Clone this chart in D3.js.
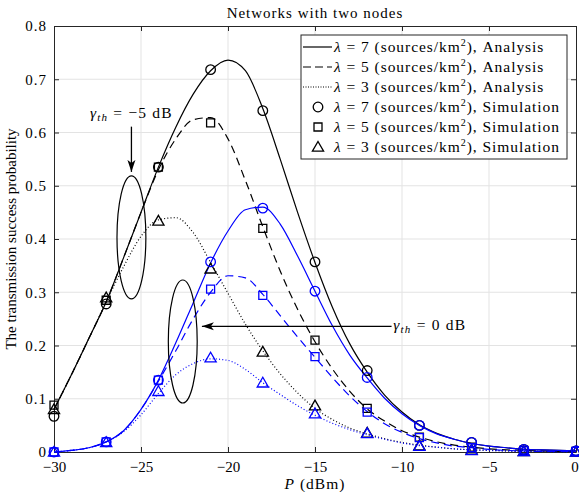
<!DOCTYPE html>
<html>
<head>
<meta charset="utf-8">
<script src="https://cdn.jsdelivr.net/npm/d3@7"></script>
<style>
body { margin: 0; background: #fff; }
text { font-family: "Liberation Serif", "DejaVu Serif", serif; fill: #000; }
</style>
</head>
<body>
<svg id="chart"></svg>
<script>
// analysis grid (dBm)
const pGrid = [-30, -29, -28, -27, -26, -25, -24, -23, -22, -21, -20, -19, -18, -17, -16, -15,
    -14, -13, -12, -11, -10, -9, -8, -7, -6, -5, -4, -3, -2, -1, 0];

// gamma_th = -5 dB (black)
const anaB7 = [0.08, 0.145, 0.213, 0.282, 0.365, 0.45, 0.535, 0.61, 0.672, 0.716, 0.736, 0.716, 0.645,
    0.55, 0.45, 0.356, 0.272, 0.203, 0.15, 0.107, 0.075, 0.051, 0.035, 0.024, 0.016, 0.011, 0.008, 0.005, 0.004, 0.003, 0.002];
const anaB5 = [0.08, 0.145, 0.213, 0.282, 0.365, 0.45, 0.53, 0.588, 0.624, 0.628, 0.588, 0.51, 0.423,
    0.34, 0.268, 0.207, 0.156, 0.114, 0.081, 0.058, 0.04, 0.028, 0.019, 0.013, 0.009, 0.006, 0.004, 0.003, 0.002, 0.001, 0.001];
const anaB3 = [0.08, 0.145, 0.213, 0.282, 0.348, 0.405, 0.436, 0.44, 0.412, 0.356, 0.298, 0.24, 0.19,
    0.147, 0.111, 0.082, 0.061, 0.045, 0.034, 0.025, 0.018, 0.013, 0.009, 0.006, 0.004, 0.003, 0.002, 0.001, 0.001, 0.0, 0.0];

// gamma_th = 0 dB (blue)
const anaU7 = [0.0, 0.003, 0.008, 0.019, 0.04, 0.08, 0.135, 0.205, 0.28, 0.355, 0.415, 0.455, 0.46,
    0.428, 0.368, 0.302, 0.237, 0.182, 0.139, 0.101, 0.072, 0.05, 0.034, 0.024, 0.016, 0.011, 0.008, 0.005, 0.004, 0.003, 0.002];
const anaU5 = [0.0, 0.003, 0.008, 0.019, 0.04, 0.08, 0.133, 0.19, 0.25, 0.3, 0.331, 0.327, 0.296,
    0.256, 0.216, 0.178, 0.14, 0.105, 0.076, 0.053, 0.037, 0.025, 0.017, 0.011, 0.008, 0.005, 0.003, 0.002, 0.001, 0.001, 0.001];
const anaU3 = [0.0, 0.003, 0.008, 0.019, 0.038, 0.07, 0.11, 0.145, 0.166, 0.175, 0.172, 0.155, 0.13,
    0.108, 0.087, 0.069, 0.054, 0.042, 0.032, 0.024, 0.017, 0.012, 0.009, 0.006, 0.004, 0.003, 0.002, 0.001, 0.001, 0.0, 0.0];

// simulation points
const pSim = [-30, -27, -24, -21, -18, -15, -12, -9, -6, -3, 0];
const simB7 = [0.067, 0.278, 0.535, 0.718, 0.641, 0.357, 0.153, 0.05, 0.018, 0.005, 0.002];
const simB5 = [0.088, 0.285, 0.535, 0.618, 0.42, 0.21, 0.082, 0.028, 0.009, 0.003, 0.001];
const simB3 = [0.08, 0.29, 0.434, 0.344, 0.188, 0.087, 0.036, 0.012, 0.004, 0.001, 0.0];
const simU7 = [0.0, 0.019, 0.135, 0.357, 0.458, 0.302, 0.14, 0.05, 0.018, 0.005, 0.002];
const simU5 = [0.0, 0.019, 0.135, 0.306, 0.294, 0.179, 0.075, 0.027, 0.008, 0.002, 0.001];
const simU3 = [0.0, 0.018, 0.114, 0.177, 0.13, 0.072, 0.035, 0.011, 0.003, 0.001, 0.0];

const xTicks = [-30, -25, -20, -15, -10, -5, 0];
const yTicks = [0, 0.1, 0.2, 0.3, 0.4, 0.5, 0.6, 0.7, 0.8];
const legendLabels = ["7", "5", "3", "7", "5", "3"];

const width = 579;
const height = 492;
const margin = { top: 26, right: 3, bottom: 40, left: 54 };

const svg = d3.select("#chart")
    .attr("width", width)
    .attr("height", height);

const x = d3.scaleLinear().domain([-30, 0]).range([margin.left, width - margin.right]);
const y = d3.scaleLinear().domain([0, 0.8]).range([height - margin.bottom, margin.top]);

const blue = "#0000ff";
const dashes = { solid: null, dashed: "8,5", dotted: "1,2.2" };

// grid
svg.append("g")
    .selectAll("line")
    .data(xTicks.slice(1, -1))
    .join("line")
    .attr("x1", d => x(d)).attr("x2", d => x(d))
    .attr("y1", y(0)).attr("y2", y(0.8))
    .attr("stroke", "#e3e3e3").attr("stroke-width", 1);
svg.append("g")
    .selectAll("line")
    .data(yTicks.slice(1, -1))
    .join("line")
    .attr("x1", x(-30)).attr("x2", x(0))
    .attr("y1", d => y(d)).attr("y2", d => y(d))
    .attr("stroke", "#e3e3e3").attr("stroke-width", 1);

// axes (ticks inward, box)
const fmtY = d => d === 0 ? "0" : d3.format(".1f")(d);
const bottomAxis = svg.append("g")
    .attr("transform", `translate(0,${y(0)})`)
    .call(d3.axisBottom(x).tickValues(xTicks).tickSizeInner(-5).tickSizeOuter(0).tickPadding(9).tickFormat(d3.format("d")));
const leftAxis = svg.append("g")
    .attr("transform", `translate(${x(-30)},0)`)
    .call(d3.axisLeft(y).tickValues(yTicks).tickSizeInner(-5).tickSizeOuter(0).tickPadding(7).tickFormat(fmtY));
const topAxis = svg.append("g")
    .attr("transform", `translate(0,${y(0.8)})`)
    .call(d3.axisTop(x).tickValues(xTicks).tickSizeInner(-5).tickSizeOuter(0).tickFormat(""));
const rightAxis = svg.append("g")
    .attr("transform", `translate(${x(0)},0)`)
    .call(d3.axisRight(y).tickValues(yTicks).tickSizeInner(-5).tickSizeOuter(0).tickFormat(""));

[bottomAxis, leftAxis, topAxis, rightAxis].forEach(g => {
    g.select(".domain").attr("stroke", "#262626").attr("stroke-width", 1);
    g.selectAll(".tick line").attr("stroke", "#262626");
    g.selectAll(".tick text")
        .attr("font-family", "Liberation Serif")
        .attr("font-size", 15)
        .attr("fill", "#262626");
});
leftAxis.selectAll(".tick text").attr("letter-spacing", 1);
// keep the last x label inside the window
bottomAxis.selectAll(".tick text").filter(d => d === 0).attr("dx", -1.5);

// analysis curves
const line = d3.line()
    .x(d => x(d[0]))
    .y(d => y(d[1]))
    .curve(d3.curveMonotoneX);

const curves = [
    { vals: anaB7, color: "#000", dash: dashes.solid },
    { vals: anaB5, color: "#000", dash: dashes.dashed },
    { vals: anaB3, color: "#000", dash: dashes.dotted },
    { vals: anaU7, color: blue, dash: dashes.solid },
    { vals: anaU5, color: blue, dash: dashes.dashed },
    { vals: anaU3, color: blue, dash: dashes.dotted }
];

svg.append("g")
    .selectAll("path")
    .data(curves)
    .join("path")
    .attr("d", c => line(pGrid.map((p, i) => [p, c.vals[i]])))
    .attr("fill", "none")
    .attr("stroke", c => c.color)
    .attr("stroke-width", 1.2)
    .attr("stroke-dasharray", c => c.dash);

// markers
const symbolPath = {
    circle: "M0,-4.8A4.8,4.8 0 1,1 0,4.8A4.8,4.8 0 1,1 0,-4.8Z",
    square: "M-4,-4H4V4H-4Z",
    triangle: "M0,-5.5L5.6,4.2H-5.6Z"
};

const sims = [
    { vals: simB7, color: "#000", shape: "circle" },
    { vals: simB5, color: "#000", shape: "square" },
    { vals: simB3, color: "#000", shape: "triangle" },
    { vals: simU7, color: blue, shape: "circle" },
    { vals: simU5, color: blue, shape: "square" },
    { vals: simU3, color: blue, shape: "triangle" }
];

sims.forEach(s => {
    svg.append("g")
        .selectAll("path")
        .data(pSim.map((p, i) => [p, s.vals[i]]))
        .join("path")
        .attr("transform", d => `translate(${x(d[0])},${y(d[1])})`)
        .attr("d", symbolPath[s.shape])
        .attr("fill", "none")
        .attr("stroke", s.color)
        .attr("stroke-width", 1.3);
});

// annotations: ellipses and arrows (data units)
const ellipses = [
    { p: -25.55, v: 0.403, dp: 0.83, dv: 0.1155 },
    { p: -22.6, v: 0.2075, dp: 0.83, dv: 0.1155 }
];
svg.append("g")
    .selectAll("ellipse")
    .data(ellipses)
    .join("ellipse")
    .attr("cx", d => x(d.p))
    .attr("cy", d => y(d.v))
    .attr("rx", d => x(d.p + d.dp) - x(d.p))
    .attr("ry", d => y(d.v) - y(d.v + d.dv))
    .attr("fill", "none")
    .attr("stroke", "#000")
    .attr("stroke-width", 1.2);

svg.append("defs").append("marker")
    .attr("id", "arrow")
    .attr("viewBox", "0 0 12 10")
    .attr("refX", 12).attr("refY", 5)
    .attr("markerWidth", 12).attr("markerHeight", 10)
    .attr("markerUnits", "userSpaceOnUse")
    .attr("orient", "auto")
    .append("path")
    .attr("d", "M0,1 L12,5 L0,9 L3,5 Z")
    .attr("fill", "#000");

const arrows = [
    { p1: -25.55, v1: 0.611, p2: -25.55, v2: 0.526 },
    { p1: -10.6, v1: 0.236, p2: -21.5, v2: 0.236 }
];
svg.append("g")
    .selectAll("line")
    .data(arrows)
    .join("line")
    .attr("x1", d => x(d.p1)).attr("y1", d => y(d.v1))
    .attr("x2", d => x(d.p2)).attr("y2", d => y(d.v2))
    .attr("stroke", "#000")
    .attr("stroke-width", 1.3)
    .attr("marker-end", "url(#arrow)");

const notes = [
    { p: -25.55, v: 0.628, text: "\u22125 dB", anchor: "middle" },
    { p: -10.5, v: 0.23, text: "0 dB", anchor: "start" }
];
notes.forEach(n => {
    const t = svg.append("text")
        .attr("x", x(n.p))
        .attr("y", y(n.v))
        .attr("text-anchor", n.anchor)
        .attr("font-size", 15.5)
        .attr("letter-spacing", 1.2);
    t.append("tspan").attr("font-style", "italic").text("\u03b3");
    t.append("tspan").attr("font-style", "italic").attr("font-size", 11).attr("dy", 3).text("th");
    t.append("tspan").attr("dy", -3).text(" = " + n.text);
});

// legend
const legend = svg.append("g").attr("transform", "translate(301,35)");
legend.append("rect")
    .attr("width", 266).attr("height", 124)
    .attr("fill", "#fff").attr("stroke", "#262626").attr("stroke-width", 1);

const rowH = 20;
legendLabels.forEach((lab, i) => {
    const cy = 12 + i * rowH;
    const g = legend.append("g").attr("transform", `translate(0,${cy})`);
    if (i < 3) {
        g.append("line")
            .attr("x1", 2).attr("x2", 31)
            .attr("stroke", "#000").attr("stroke-width", 1.2)
            .attr("stroke-dasharray", [null, "8,4", "1,1.5"][i]);
    } else {
        g.append("path")
            .attr("transform", "translate(17,0)")
            .attr("d", symbolPath[["circle", "square", "triangle"][i - 3]])
            .attr("fill", "none").attr("stroke", "#000").attr("stroke-width", 1.3);
    }
    const t = g.append("text")
        .attr("x", 33).attr("y", 5)
        .attr("font-size", 15.5)
        .attr("letter-spacing", 0.95);
    t.append("tspan").attr("font-style", "italic").text("\u03bb");
    t.append("tspan").text(` = ${lab} (sources/km`);
    t.append("tspan").attr("font-size", 10).attr("dy", -6).text("2");
    t.append("tspan").attr("dy", 6).text(i < 3 ? "), Analysis" : "), Simulation");
});

// title and axis labels
svg.append("text")
    .attr("x", (x(-30) + x(0)) / 2)
    .attr("y", 18)
    .attr("text-anchor", "middle")
    .attr("font-size", 15)
    .attr("letter-spacing", 1)
    .text("Networks with two nodes");

const xl = svg.append("text")
    .attr("x", (x(-30) + x(0)) / 2)
    .attr("y", 489)
    .attr("text-anchor", "middle")
    .attr("font-size", 15.5)
    .attr("letter-spacing", 1)
    .attr("fill", "#262626");
xl.append("tspan").attr("font-style", "italic").text("P");
xl.append("tspan").text(" (dBm)");

svg.append("text")
    .attr("transform", `translate(16,${(y(0) + y(0.8)) / 2}) rotate(-90)`)
    .attr("text-anchor", "middle")
    .attr("font-size", 15)
    .attr("fill", "#262626")
    .text("The transmission success probability");
</script>
</body>
</html>
